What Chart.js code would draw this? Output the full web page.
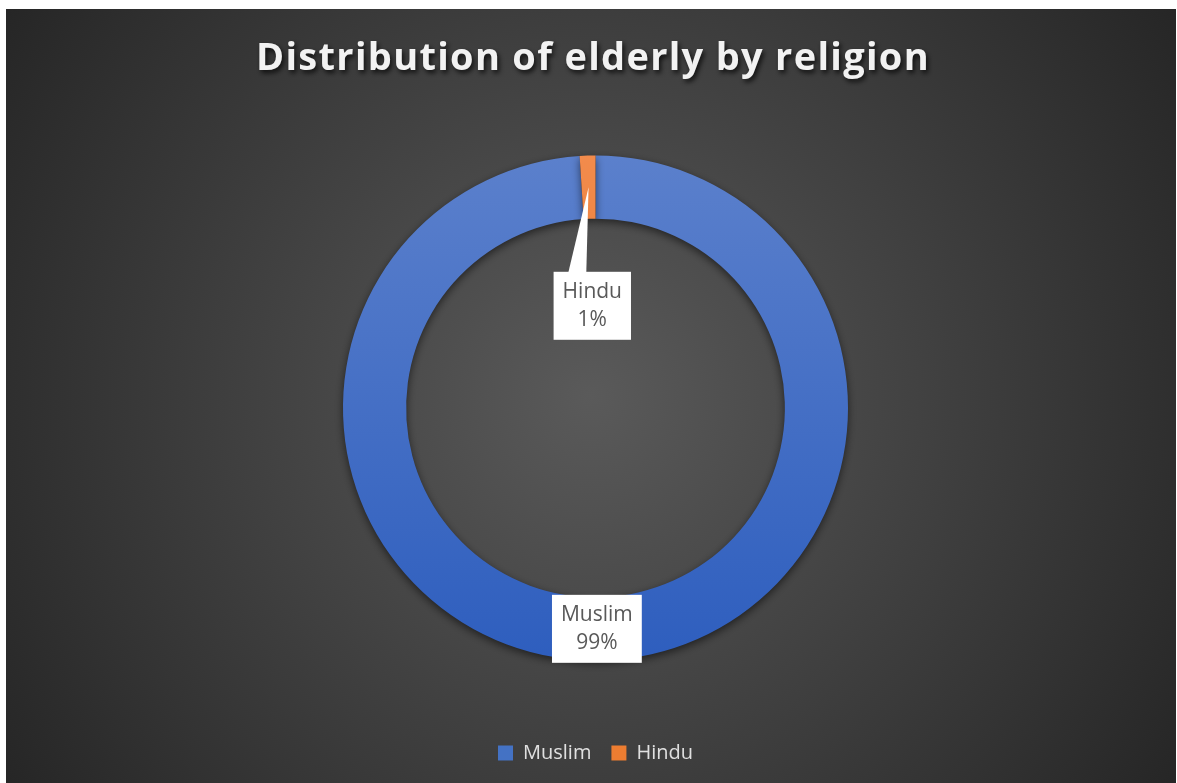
<!DOCTYPE html>
<html>
<head>
<meta charset="utf-8">
<script src="https://cdn.jsdelivr.net/npm/chart.js@4.4.1/dist/chart.umd.min.js"></script>
<style>
    html, body { margin: 0; padding: 0; background: #ffffff; }
    #wrap { position: absolute; left: 6px; top: 9px; width: 1170px; height: 774px; }
</style>
</head>
<body>
<div id="wrap"><canvas id="religionChart"></canvas></div>
<script>
    'use strict';

    var chartTitle = 'Distribution of elderly by religion';
    var religionLabels = ['Muslim', 'Hindu'];
    var religionShares = [99, 1];
    var percentLabels = ['99%', '1%'];

    var seriesColors = [
        { top: '#5b80cc', bottom: '#2e5ebe' },
        { top: '#f28b4c', bottom: '#e26a18' }
    ];
    var legendColors = ['#4472c4', '#ed7d31'];
    var labelFont = '21px "Open Sans"';

    function sliceGradient(context) {
        var chart = context.chart;
        var area = chart.chartArea;
        var colors = seriesColors[context.dataIndex];
        if (!area || !isFinite(area.top)) {
            return colors.bottom;
        }
        var cy = (area.top + area.bottom) / 2;
        var r = Math.min(area.width, area.height) / 2;
        var g = chart.ctx.createLinearGradient(0, cy - r, 0, cy + r);
        g.addColorStop(0, colors.top);
        g.addColorStop(1, colors.bottom);
        return g;
    }

    var backgroundPlugin = {
        id: 'darkBackground',
        beforeDraw: function (chart) {
            var ctx = chart.ctx;
            var w = chart.width;
            var h = chart.height;
            ctx.save();
            var g = ctx.createRadialGradient(w / 2, h / 2, 0, w / 2, h / 2, 700);
            g.addColorStop(0, '#5a5a5a');
            g.addColorStop(1, '#262626');
            ctx.fillStyle = g;
            ctx.fillRect(0, 0, w, h);

            ctx.font = 'bold 38px "Open Sans"';
            ctx.letterSpacing = '1.3px';
            ctx.textAlign = 'center';
            ctx.textBaseline = 'middle';
            ctx.shadowColor = 'rgba(0, 0, 0, 0.75)';
            ctx.shadowBlur = 5;
            ctx.shadowOffsetX = 2;
            ctx.shadowOffsetY = 3;
            ctx.fillStyle = '#f2f2f2';
            ctx.fillText(chartTitle, w / 2 + 2, 50);
            ctx.restore();
        }
    };

    var shadowPlugin = {
        id: 'ringShadow',
        beforeDatasetsDraw: function (chart) {
            var ctx = chart.ctx;
            ctx.save();
            ctx.shadowColor = 'rgba(0, 0, 0, 0.55)';
            ctx.shadowBlur = 9;
            ctx.shadowOffsetY = 3;
        },
        afterDatasetsDraw: function (chart) {
            chart.ctx.restore();
        }
    };

    function drawLabelBox(ctx, cx, cy, lines) {
        ctx.font = labelFont;
        var textW = Math.max.apply(null, lines.map(function (t) { return ctx.measureText(t).width; }));
        var lineH = 28;
        var boxW = textW + 18;
        var boxH = lines.length * lineH + 12;
        ctx.fillStyle = '#ffffff';
        ctx.fillRect(cx - boxW / 2, cy - boxH / 2, boxW, boxH);
        ctx.fillStyle = '#595959';
        ctx.textAlign = 'center';
        ctx.textBaseline = 'middle';
        lines.forEach(function (t, i) {
            ctx.fillText(t, cx, cy - boxH / 2 + 6 + lineH * i + lineH / 2);
        });
    }

    var labelPlugin = {
        id: 'calloutLabels',
        afterDraw: function (chart) {
            var ctx = chart.ctx;
            var meta = chart.getDatasetMeta(0);
            ctx.save();
            meta.data.forEach(function (arc, i) {
                var p = arc.getProps(['x', 'y', 'startAngle', 'endAngle', 'innerRadius', 'outerRadius'], true);
                var mid = (p.startAngle + p.endAngle) / 2;
                var midR = (p.innerRadius + p.outerRadius) / 2;
                var lines = [religionLabels[i], percentLabels[i]];
                if (religionShares[i] < 5) {
                    // small slice: pull the label inward with a leader wedge
                    var r = p.innerRadius * 0.54;
                    var bx = p.x + Math.cos(mid) * r;
                    var by = p.y + Math.sin(mid) * r;
                    var tipX = p.x + Math.cos(mid) * midR;
                    var tipY = p.y + Math.sin(mid) * midR;
                    var boxH = 2 * 28 + 12;
                    ctx.fillStyle = '#ffffff';
                    ctx.beginPath();
                    ctx.moveTo(tipX, tipY);
                    ctx.lineTo(bx - 24, by - boxH / 2 + 1);
                    ctx.lineTo(bx - 6, by - boxH / 2 + 1);
                    ctx.closePath();
                    ctx.fill();
                    drawLabelBox(ctx, bx, by, lines);
                } else {
                    drawLabelBox(ctx, p.x + Math.cos(mid) * midR * 0.2, p.y + Math.sin(mid) * midR, lines);
                }
            });
            ctx.restore();
        }
    };

    new Chart(document.getElementById('religionChart'), {
        type: 'doughnut',
        data: {
            labels: religionLabels,
            datasets: [{
                data: religionShares,
                backgroundColor: sliceGradient,
                borderWidth: 0,
                hoverOffset: 0
            }]
        },
        options: {
            responsive: true,
            maintainAspectRatio: false,
            animation: false,
            cutout: '75%',
            layout: {
                padding: { top: 84, bottom: 10, left: 337, right: 328 }
            },
            plugins: {
                title: { display: false },
                tooltip: { enabled: false },
                legend: {
                    position: 'bottom',
                    labels: {
                        color: '#e0e0e0',
                        boxWidth: 15,
                        boxHeight: 15,
                        padding: 20,
                        font: { family: '"Open Sans"', size: 20 },
                        generateLabels: function () {
                            return religionLabels.map(function (label, i) {
                                return {
                                    text: label,
                                    fillStyle: legendColors[i],
                                    strokeStyle: 'rgba(0,0,0,0)',
                                    lineWidth: 0,
                                    fontColor: '#e0e0e0',
                                    index: i
                                };
                            });
                        }
                    }
                }
            }
        },
        plugins: [backgroundPlugin, shadowPlugin, labelPlugin]
    });
</script>
</body>
</html>
